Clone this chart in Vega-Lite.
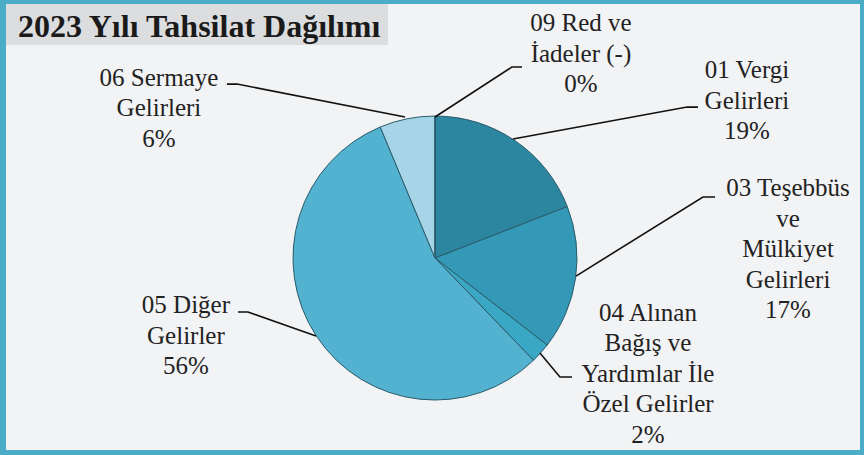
{
  "$schema": "https://vega.github.io/schema/vega-lite/v6.json",
  "width": 854,
  "height": 446,
  "autosize": "none",
  "padding": {"left": 6, "top": 4, "right": 4, "bottom": 5},
  "background": "#4BACC6",
  "config": {"view": {"stroke": null, "fill": "#F2F3F5"}},
  "datasets": {
    "slices": [
      {"kalem": "01 Vergi Gelirleri", "pay": 19.1, "sira": 1},
      {"kalem": "03 Teşebbüs ve Mülkiyet Gelirleri", "pay": 16.4, "sira": 2},
      {"kalem": "04 Alınan Bağış ve Yardımlar İle Özel Gelirler", "pay": 2.3, "sira": 3},
      {"kalem": "05 Diğer Gelirler", "pay": 55.9, "sira": 4},
      {"kalem": "06 Sermaye Gelirleri", "pay": 6.3, "sira": 5},
      {"kalem": "09 Red ve İadeler (-)", "pay": 0.0, "sira": 6}
    ],
    "labels": [
      {"kalem": "01 Vergi Gelirleri", "etiket": "01 Vergi\nGelirleri\n19%", "lx": 219.7, "ly": 132.4},
      {"kalem": "03 Teşebbüs ve Mülkiyet Gelirleri", "etiket": "03 Teşebbüs\nve\nMülkiyet\nGelirleri\n17%", "lx": 248.6, "ly": 49.3},
      {"kalem": "04 Alınan Bağış ve Yardımlar İle Özel Gelirler", "etiket": "04 Alınan\nBağış ve\nYardımlar İle\nÖzel Gelirler\n2%", "lx": 150.0, "ly": -38.7},
      {"kalem": "05 Diğer Gelirler", "etiket": "05 Diğer\nGelirler\n56%", "lx": -175.4, "ly": -33.1},
      {"kalem": "06 Sermaye Gelirleri", "etiket": "06 Sermaye\nGelirleri\n6%", "lx": -194.4, "ly": 126.8},
      {"kalem": "09 Red ve İadeler (-)", "etiket": "09 Red ve\nİadeler (-)\n0%", "lx": 102.8, "ly": 165.5}
    ],
    "leaders": [
      {"kalem": "01", "i": 1, "px": 185.2, "py": 106.3},
      {"kalem": "01", "i": 2, "px": 177.5, "py": 106.3},
      {"kalem": "01", "i": 3, "px": 54.9, "py": 83.8},
      {"kalem": "03", "i": 1, "px": 197.2, "py": 43.0},
      {"kalem": "03", "i": 2, "px": 188.7, "py": 43.0},
      {"kalem": "03", "i": 3, "px": 99.3, "py": -12.7},
      {"kalem": "04", "i": 1, "px": 96.5, "py": -83.8},
      {"kalem": "04", "i": 2, "px": 88.0, "py": -83.8},
      {"kalem": "04", "i": 3, "px": 73.9, "py": -66.9},
      {"kalem": "05", "i": 1, "px": -138.7, "py": -38.0},
      {"kalem": "05", "i": 2, "px": -131.7, "py": -38.0},
      {"kalem": "05", "i": 3, "px": -83.8, "py": -54.9},
      {"kalem": "06", "i": 1, "px": -146.5, "py": 122.5},
      {"kalem": "06", "i": 2, "px": -139.4, "py": 122.5},
      {"kalem": "06", "i": 3, "px": -21.1, "py": 99.3},
      {"kalem": "09", "i": 1, "px": 61.3, "py": 134.5},
      {"kalem": "09", "i": 2, "px": 54.2, "py": 134.5},
      {"kalem": "09", "i": 3, "px": 0.0, "py": 99.3}
    ],
    "baslik": [
      {"metin": "2023 Yılı Tahsilat Dağılımı", "x0": -302.1, "x1": -33.1, "y0": 178.9, "y1": 150.0, "tx": -293.7, "ty": 162.4}
    ]
  },
  "layer": [
    {
      "data": {"name": "baslik"},
      "mark": {"type": "rect", "color": "#DCDDDF"},
      "encoding": {
        "x": {"field": "x0", "type": "quantitative", "scale": {"domain": [-302.1, 299.3], "nice": false, "zero": false}, "axis": null},
        "x2": {"field": "x1"},
        "y": {"field": "y0", "type": "quantitative", "scale": {"domain": [-135.2, 178.9], "nice": false, "zero": false}, "axis": null},
        "y2": {"field": "y1"}
      }
    },
    {
      "data": {"name": "baslik"},
      "mark": {"type": "text", "font": "Liberation Serif", "fontWeight": "bold", "fontSize": 32, "align": "left", "baseline": "middle", "color": "#1a1a1a"},
      "encoding": {
        "x": {"field": "tx", "type": "quantitative"},
        "y": {"field": "ty", "type": "quantitative"},
        "text": {"field": "metin"}
      }
    },
    {
      "data": {"name": "slices"},
      "mark": {"type": "arc", "radius": 142, "stroke": "#2b5b6b", "strokeWidth": 1},
      "encoding": {
        "x": {"datum": 0, "type": "quantitative"},
        "y": {"datum": 0, "type": "quantitative"},
        "theta": {"field": "pay", "type": "quantitative", "stack": true},
        "order": {"field": "sira", "type": "quantitative"},
        "color": {
          "field": "kalem", "type": "nominal", "legend": null,
          "scale": {
            "domain": ["01 Vergi Gelirleri", "03 Teşebbüs ve Mülkiyet Gelirleri", "04 Alınan Bağış ve Yardımlar İle Özel Gelirler", "05 Diğer Gelirler", "06 Sermaye Gelirleri", "09 Red ve İadeler (-)"],
            "range": ["#2C86A0", "#3399B6", "#3AA7C4", "#52B2D0", "#A6D5E8", "#C9E6F1"]
          }
        }
      }
    },
    {
      "data": {"name": "leaders"},
      "mark": {"type": "line", "color": "#111111", "strokeWidth": 1.6},
      "encoding": {
        "x": {"field": "px", "type": "quantitative"},
        "y": {"field": "py", "type": "quantitative"},
        "detail": {"field": "kalem"},
        "order": {"field": "i", "type": "quantitative"}
      }
    },
    {
      "data": {"name": "labels"},
      "mark": {"type": "text", "font": "Liberation Serif", "fontSize": 25, "lineHeight": 30.5, "align": "center", "baseline": "middle", "color": "#222222", "lineBreak": "\n"},
      "encoding": {
        "x": {"field": "lx", "type": "quantitative"},
        "y": {"field": "ly", "type": "quantitative"},
        "text": {"field": "etiket"}
      }
    }
  ]
}
